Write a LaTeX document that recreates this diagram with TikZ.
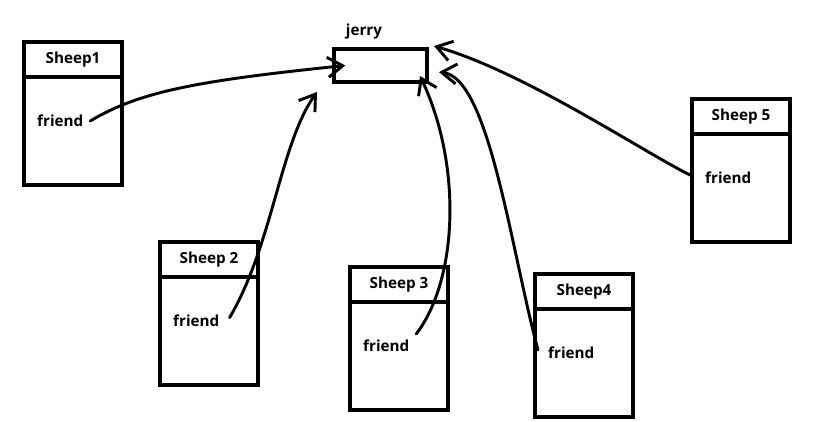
\documentclass[tikz,border=0pt]{standalone}
\usepackage{fontspec}
\setmainfont{Open Sans}
\usetikzlibrary{arrows.meta}
\begin{document}
\begin{tikzpicture}[x=0.03cm,y=-0.03cm,font=\bfseries\fontsize{13}{15}\selectfont,
    sheepbox/.style={draw,line width=3.4pt,minimum width=2.94cm,minimum height=4.29cm,anchor=north west,inner sep=0pt},
    jerrybox/.style={draw,line width=3.4pt,minimum width=2.79cm,minimum height=0.99cm,anchor=north west,inner sep=0pt},
    divider/.style={line width=3.4pt},
    link/.style={line width=2.5pt,line cap=round,-{Straight Barb[length=4.5mm,width=6mm]}}]
    \useasboundingbox (0,0) rectangle (835,422);
    % the object every sheep points to
    \node[jerrybox] (jerry) at (332,47) {};
    \node (jname) at (364,32) {jerry};
    % five sheep, each with a friend field
    \foreach \n/\x/\y/\lbl in {1/22/40/Sheep1,2/158/240/Sheep 2,3/348/265/Sheep 3,4/533/272/Sheep4,5/690/97/Sheep 5} {
        \node[sheepbox] (s\n) at (\x,\y) {};
        \draw[divider] ([yshift=-1.11cm]s\n.north west) -- ([yshift=-1.11cm]s\n.north east);
        \node (h\n) at ([yshift=-0.6cm]s\n.north) {\lbl};
        \node[anchor=west,inner sep=0pt] (f\n) at ([xshift=0.45cm,yshift=-2.43cm]s\n.north west) {friend};
    }
    % where the arrows end
    \coordinate (t1) at ([xshift=0.4cm]jerry.west);
    \coordinate (t2) at ([xshift=-0.45cm,yshift=-0.24cm]jerry.south west);
    \coordinate (t3) at ([xshift=-0.27cm,yshift=0.24cm]jerry.south east);
    \coordinate (t4) at ([xshift=0.3cm,yshift=-0.2cm]jerry.east);
    \coordinate (t5) at ([xshift=0.15cm,yshift=0.03cm]jerry.north east);
    \draw[link] ([xshift=0.2cm]f1.east) .. controls +(50,-30) and +(-145,15) .. (t1);
    \draw[link] ([xshift=0.3cm,yshift=0.1cm]f2.east) .. controls +(43,-73) and +(-37,52) .. (t2);
    \draw[link] ([xshift=0.2cm,yshift=0.36cm]f3.east) .. controls +(42,-55) and +(42,88) .. (t3);
    \draw[link] ([xshift=-0.3cm,yshift=0.09cm]f4.west) .. controls +(-27,-100) and +(50,5) .. (t4);
    \draw[link] ([xshift=-0.45cm,yshift=0.09cm]f5.west) .. controls +(-50,-25) and +(90,26) .. (t5);
\end{tikzpicture}
\end{document}
